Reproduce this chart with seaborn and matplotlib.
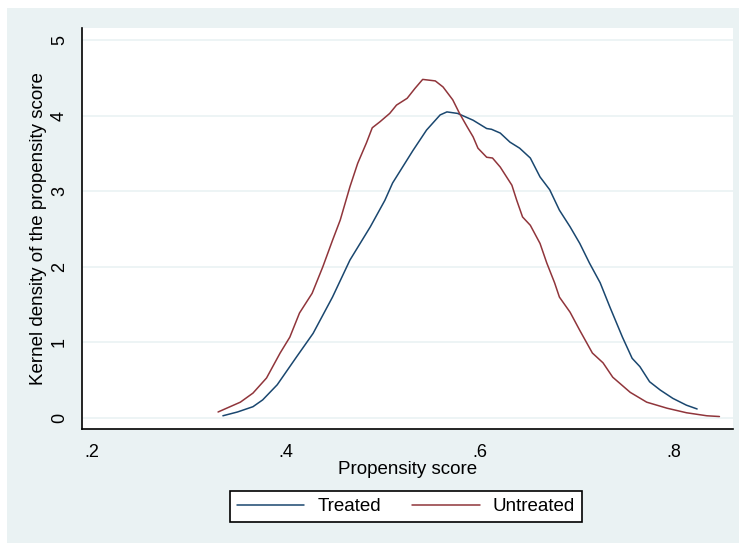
import matplotlib
matplotlib.use("Agg")
import matplotlib.pyplot as plt
import seaborn as sns
import pandas as pd
from matplotlib.patches import Rectangle
from matplotlib.lines import Line2D

# ---- data ----
treated_x = [0.335, 0.350, 0.366, 0.376, 0.391, 0.411, 0.428, 0.448, 0.466, 0.487,
             0.502, 0.510, 0.531, 0.545, 0.559, 0.566, 0.577, 0.593, 0.607, 0.612,
             0.621, 0.631, 0.641, 0.652, 0.662, 0.672, 0.682, 0.693, 0.703, 0.713,
             0.724, 0.734, 0.747, 0.757, 0.765, 0.775, 0.786, 0.799, 0.813, 0.824]
treated_y = [0.03, 0.08, 0.15, 0.24, 0.44, 0.81, 1.12, 1.60, 2.09, 2.53,
             2.88, 3.11, 3.54, 3.81, 4.01, 4.05, 4.03, 3.94, 3.83, 3.82,
             3.77, 3.65, 3.57, 3.44, 3.19, 3.02, 2.75, 2.53, 2.31, 2.05,
             1.79, 1.47, 1.07, 0.79, 0.68, 0.48, 0.37, 0.26, 0.17, 0.12]

untreated_x = [0.330, 0.353, 0.366, 0.380, 0.394, 0.404, 0.414, 0.427, 0.438, 0.448,
               0.456, 0.466, 0.474, 0.483, 0.489, 0.497, 0.507, 0.514, 0.525, 0.533,
               0.541, 0.554, 0.562, 0.572, 0.579, 0.587, 0.593, 0.598, 0.607, 0.613,
               0.621, 0.633, 0.638, 0.644, 0.652, 0.662, 0.669, 0.677, 0.682, 0.693,
               0.703, 0.716, 0.727, 0.737, 0.755, 0.772, 0.793, 0.813, 0.834, 0.847]
untreated_y = [0.08, 0.21, 0.33, 0.53, 0.86, 1.07, 1.39, 1.65, 2.00, 2.35,
               2.62, 3.06, 3.37, 3.64, 3.84, 3.92, 4.03, 4.14, 4.23, 4.36,
               4.48, 4.46, 4.38, 4.21, 4.03, 3.85, 3.72, 3.57, 3.45, 3.44,
               3.32, 3.08, 2.88, 2.66, 2.55, 2.31, 2.05, 1.79, 1.60, 1.40,
               1.16, 0.86, 0.73, 0.54, 0.34, 0.21, 0.13, 0.07, 0.03, 0.02]

groups = ["Treated", "Untreated"]
x_ticks = [0.2, 0.4, 0.6, 0.8]
x_tick_labels = [".2", ".4", ".6", ".8"]
y_ticks = [0, 1, 2, 3, 4, 5]
y_tick_labels = ["0", "1", "2", "3", "4", "5"]

df = pd.concat([
    pd.DataFrame({"score": treated_x, "density": treated_y, "group": groups[0]}),
    pd.DataFrame({"score": untreated_x, "density": untreated_y, "group": groups[1]}),
], ignore_index=True)

# ---- style ----
sns.set_style("white")
plt.rcParams["font.family"] = ["Liberation Sans", "DejaVu Sans"]

W, H = 739, 544
fig = plt.figure(figsize=(W / 100, H / 100), dpi=100)
fig.patch.set_facecolor("white")
bg = "#EAF2F3"
fig.patches.append(Rectangle((7 / W, 1 / H), (W - 7) / W, (543 - 8) / H,
                             transform=fig.transFigure, facecolor=bg,
                             edgecolor="none", zorder=-10))

ax = fig.add_axes([82 / W, 1 - 429 / H, (733 - 82) / W, (429 - 28) / H])
ax.set_zorder(5)
ax.set_facecolor("white")

palette = {"Treated": "#1A476F", "Untreated": "#90353B"}
sns.lineplot(data=df, x="score", y="density", hue="group", palette=palette,
             estimator=None, sort=False, linewidth=1.1, ax=ax, legend=False)

ax.set_xlim(0.1897, 0.861)
ax.set_ylim(-0.145, 5.16)
ax.set_xticks(x_ticks)
ax.set_xticklabels(x_tick_labels, fontsize=13)
ax.set_yticks(y_ticks)
ax.set_yticklabels(y_tick_labels, fontsize=13, rotation=90, va="center")
ax.tick_params(axis="both", direction="out", length=6, width=1, color="black",
               labelcolor="black", pad=4)
ax.tick_params(axis="x", pad=5)
ax.yaxis.grid(True, color=bg, linewidth=1.2)
ax.xaxis.grid(False)
ax.set_axisbelow(True)
for s in ["top", "right"]:
    ax.spines[s].set_visible(False)
for s in ["left", "bottom"]:
    ax.spines[s].set_color("black")
    ax.spines[s].set_linewidth(1.2)

ax.set_xlabel("Propensity score", fontsize=13.5, labelpad=0, color="black")
ax.set_ylabel("Kernel density of the propensity score", fontsize=13.5,
              labelpad=3, color="black")

handles = [Line2D([], [], color=palette[g], linewidth=1.1) for g in groups]
leg = fig.legend(handles, groups, loc="center",
                 bbox_to_anchor=(406 / W, 1 - 506.5 / H), ncol=2, fontsize=13.5,
                 frameon=True, fancybox=False, edgecolor="black", framealpha=1,
                 handlelength=3.6, columnspacing=1.65, handletextpad=0.7,
                 borderpad=0.35)
leg.get_frame().set_linewidth(1.2)
leg.get_frame().set_facecolor("white")
for t in leg.get_texts():
    t.set_color("black")

fig.savefig("out.png", dpi=100, facecolor=fig.get_facecolor())
